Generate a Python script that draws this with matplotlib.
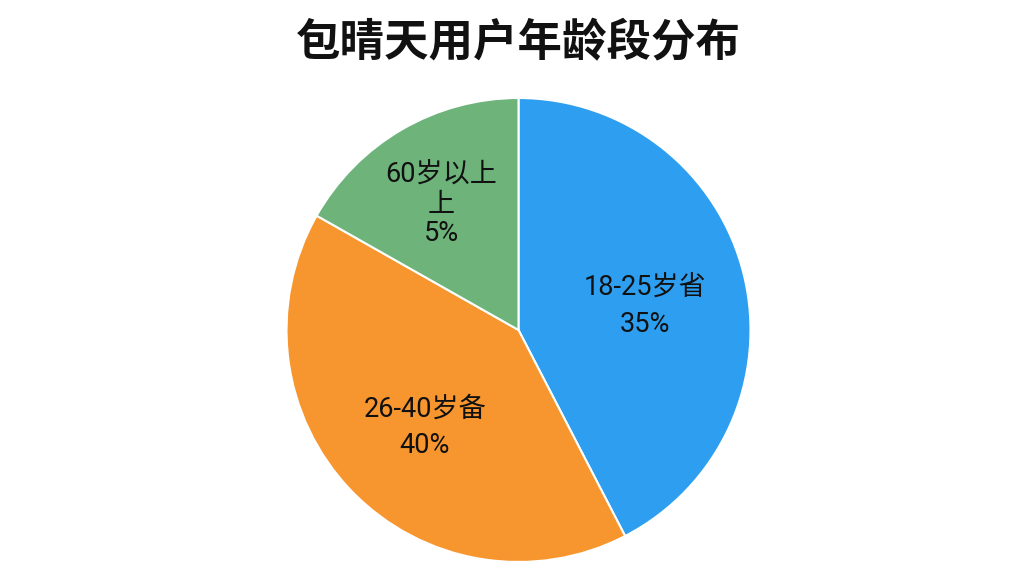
import numpy as np
import matplotlib
matplotlib.use("Agg")
import matplotlib.pyplot as plt

plt.rcParams['font.family'] = ['Roboto', 'Noto Sans CJK SC', 'DejaVu Sans']

title = "包晴天用户年龄段分布"
categories = ["18-25岁省", "26-40岁备", "60岁以上\n上"]
pct_labels = ["35%", "40%", "5%"]
# slice sizes as drawn (share of circle)
values = [42.4, 40.8, 16.8]
colors = ["#2E9FF0", "#F7962F", "#6DB37A"]
label_radius = [0.56, 0.56, 0.66]
label_spacing = [1.5, 1.45, 1.1]

fig = plt.figure(figsize=(10.24, 5.76), dpi=100)
ax = fig.add_axes([0.0532, 0.0243, 0.9063, 0.8056])
wedges, _ = ax.pie(values, colors=colors, startangle=90, counterclock=False,
                   radius=1.0,
                   wedgeprops=dict(edgecolor="white", linewidth=1.5))
for w, cat, pct, r, ls in zip(wedges, categories, pct_labels, label_radius, label_spacing):
    mid = np.deg2rad((w.theta1 + w.theta2) / 2)
    ax.text(r * np.cos(mid), r * np.sin(mid) - 0.03, f"{cat}\n{pct}", ha="center", va="center",
            fontsize=19.5, color="#111111", linespacing=ls)
ax.set_xlim(-1.0 * 0.9063 / 0.4531 * 1, 1.0 * 0.9063 / 0.4531)
ax.set_ylim(-1.0, 1.0)
ax.set_aspect("equal")
ax.axis("off")
fig.text(0.506, 0.925, title, ha="center", va="center", fontsize=32,
         fontweight="bold", family=['Noto Sans CJK SC'], color="#111111")
fig.savefig("out.png", dpi=100, facecolor="white")
